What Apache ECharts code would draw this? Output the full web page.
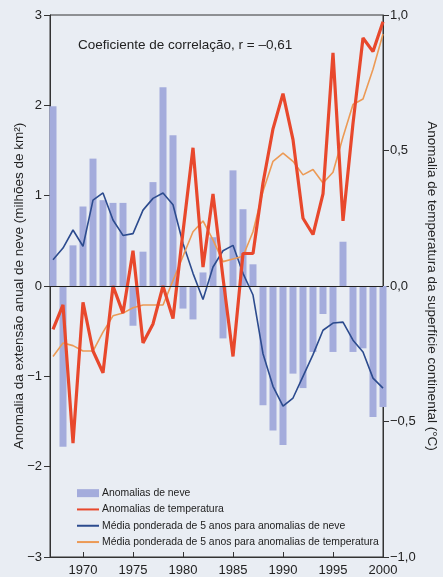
<!DOCTYPE html>
<html>
<head>
<meta charset="utf-8">
<script src="https://cdn.jsdelivr.net/npm/echarts@6/dist/echarts.min.js"></script>
<style>
html,body{margin:0;padding:0;background:#e9edf3;}
#c{width:443px;height:577px;}
</style>
</head>
<body>
<div id="c"></div>
<script>
var years = [1967,1968,1969,1970,1971,1972,1973,1974,1975,1976,1977,1978,1979,1980,1981,1982,1983,1984,1985,1986,1987,1988,1989,1990,1991,1992,1993,1994,1995,1996,1997,1998,1999,2000];
var snowAnom = [1.99,-1.78,0.45,0.88,1.41,0.95,0.92,0.92,-0.44,0.38,1.15,2.2,1.67,-0.25,-0.37,0.15,0.54,-0.58,1.28,0.85,0.24,-1.32,-1.6,-1.76,-0.97,-1.13,-0.73,-0.31,-0.73,0.49,-0.73,-0.69,-1.45,-1.34];
var tempAnom = [-0.16,-0.07,-0.58,-0.06,-0.24,-0.32,0.0,-0.1,0.13,-0.21,-0.14,0.0,-0.12,0.2,0.51,0.07,0.34,0.03,-0.26,0.12,0.12,0.38,0.58,0.71,0.54,0.25,0.19,0.34,0.86,0.24,0.6,0.915,0.865,0.975];
var snowAvg = [0.29,0.42,0.62,0.44,0.95,1.03,0.73,0.56,0.58,0.84,0.97,1.03,0.9,0.47,0.14,-0.15,0.21,0.39,0.45,0.14,-0.1,-0.75,-1.11,-1.33,-1.24,-1.0,-0.76,-0.49,-0.41,-0.4,-0.6,-0.73,-1.02,-1.13];
var tempAvg = [-0.26,-0.21,-0.22,-0.24,-0.24,-0.17,-0.11,-0.1,-0.08,-0.07,-0.07,-0.07,0.02,0.11,0.2,0.24,0.17,0.09,0.1,0.11,0.2,0.35,0.46,0.49,0.46,0.41,0.43,0.38,0.42,0.55,0.67,0.69,0.8,0.93];
var xTicks = [1970,1975,1980,1985,1990,1995,2000];
var names = ['Anomalias de neve','Anomalias de temperatura','Média ponderada de 5 anos para anomalias de neve','Média ponderada de 5 anos para anomalias de temperatura'];

function pairs(arr){ return years.map(function(y,i){ return [y, arr[i]]; }); }
var FONT = 'Liberation Sans, Arial, Helvetica, sans-serif';
var TXT = '#222';

var chart = echarts.init(document.getElementById('c'));
chart.setOption({
  backgroundColor: '#e9edf3',
  animation: false,
  textStyle: {fontFamily: FONT},
  title: {
    text: 'Coeficiente de correlação, r = –0,61',
    left: 73, top: 33,
    textStyle: {fontSize: 13.5, fontWeight: 'normal', color: TXT, fontFamily: FONT}
  },
  grid: {left: 50, right: 60, top: 15, bottom: 20, containLabel: false, outerBoundsMode: 'none',
    show: true, borderColor: '#333', borderWidth: 1, backgroundColor: 'transparent'},
  legend: {
    orient: 'vertical', left: 71, top: 482,
    itemWidth: 22, itemHeight: 8, itemGap: 4,
    textStyle: {fontSize: 10.4, color: TXT, lineHeight: 12.3, fontFamily: FONT, padding: [0,0,0,-2]},
    data: [
      {name: names[0], icon: 'rect'},
      {name: names[1], itemStyle: {opacity: 0}},
      {name: names[2], itemStyle: {opacity: 0}},
      {name: names[3], itemStyle: {opacity: 0}}
    ]
  },
  xAxis: {
    type: 'value', min: 1966.7, max: 2000,
    axisLine: {onZero: false, lineStyle: {color: '#333'}},
    axisTick: {inside: true, length: 5, customValues: xTicks, lineStyle: {color: '#333'}},
    axisLabel: {customValues: xTicks, fontSize: 13, color: TXT, margin: 7, fontFamily: FONT,
      formatter: function(v){ return String(Math.round(v)); }},
    splitLine: {show: false}
  },
  yAxis: [{
    type: 'value', min: -3, max: 3, interval: 1,
    name: 'Anomalia da extensão anual de neve (milhões de km²)',
    nameLocation: 'middle', nameGap: 24, nameRotate: 90, nameMoveOverlap: false,
    nameTextStyle: {fontSize: 13.5, color: TXT, fontFamily: FONT},
    axisLine: {show: true, lineStyle: {color: '#333'}},
    axisTick: {show: true, length: 6, lineStyle: {color: '#333'}},
    axisLabel: {fontSize: 13, color: TXT, margin: 8, fontFamily: FONT,
      formatter: function(v){ return String(v).replace('-', '−'); }},
    splitLine: {show: false}
  },{
    type: 'value', min: -1, max: 1, interval: 0.5, position: 'right',
    name: 'Anomalia de temperatura da superfície continental (°C)',
    nameLocation: 'middle', nameGap: 42, nameRotate: -90, nameMoveOverlap: false,
    nameTextStyle: {fontSize: 13.5, color: TXT, fontFamily: FONT},
    axisLine: {show: true, lineStyle: {color: '#333'}},
    axisTick: {show: true, length: 6, lineStyle: {color: '#333'}},
    axisLabel: {fontSize: 13, color: TXT, margin: 7, fontFamily: FONT,
      formatter: function(v){ return v.toFixed(1).replace('.', ',').replace('-', '−'); }},
    splitLine: {show: false}
  }],
  series: [{
    name: names[0], type: 'bar', yAxisIndex: 0, barWidth: 7,
    itemStyle: {color: '#a4acdc'},
    data: pairs(snowAnom),
    markLine: {silent: true, symbol: 'none', label: {show: false},
      lineStyle: {color: '#222', width: 1.2, type: 'solid'},
      data: [{yAxis: 0}]}
  },{
    name: names[2], type: 'line', yAxisIndex: 0, symbol: 'none',
    lineStyle: {color: '#2c4b8e', width: 1.6}, itemStyle: {color: '#2c4b8e'},
    data: pairs(snowAvg)
  },{
    name: names[3], type: 'line', yAxisIndex: 1, symbol: 'none',
    lineStyle: {color: '#ec9a55', width: 1.6}, itemStyle: {color: '#ec9a55'},
    data: pairs(tempAvg)
  },{
    name: names[1], type: 'line', yAxisIndex: 1, symbol: 'none',
    lineStyle: {color: '#e8482c', width: 3.2}, itemStyle: {color: '#e8482c'},
    data: pairs(tempAnom)
  }]
});
</script>
</body>
</html>
